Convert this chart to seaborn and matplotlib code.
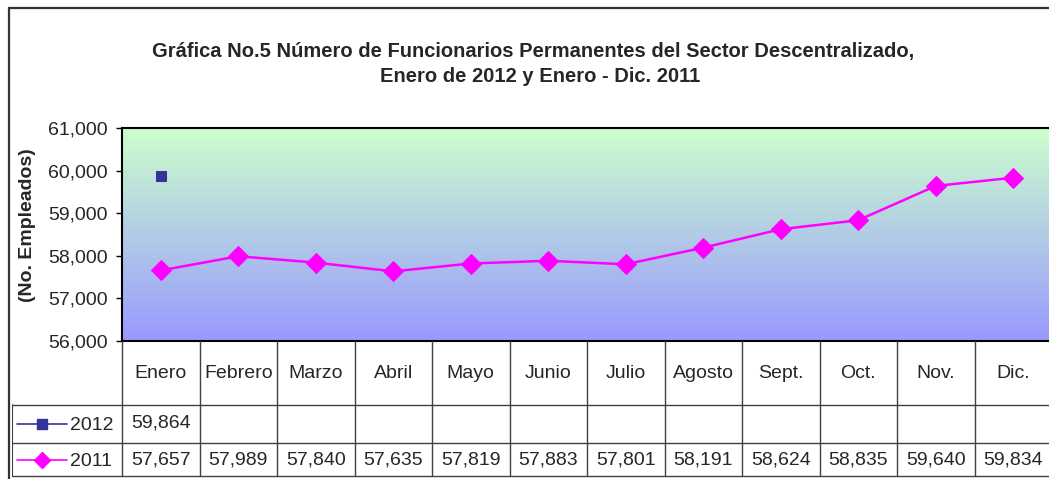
import numpy as np
import pandas as pd
import seaborn as sns
import matplotlib.pyplot as plt
from matplotlib.lines import Line2D

meses = ['Enero', 'Febrero', 'Marzo', 'Abril', 'Mayo', 'Junio', 'Julio',
         'Agosto', 'Sept.', 'Oct.', 'Nov.', 'Dic.']
vals_2012 = [59864]
vals_2011 = [57657, 57989, 57840, 57635, 57819, 57883, 57801,
             58191, 58624, 58835, 59640, 59834]
yticks = [56000, 57000, 58000, 59000, 60000, 61000]

c2012 = '#333399'
c2011 = '#FF00FF'
grid_c = '#404040'
fs = 14

sns.set_theme(style='white')
plt.rcParams['font.family'] = ['Liberation Sans', 'DejaVu Sans']

W, H = 1049, 479
fig = plt.figure(figsize=(W / 100, H / 100), dpi=100)

# outer chart frame
fig.add_artist(Line2D([9 / W, 1.0], [1 - 8 / H, 1 - 8 / H], color='#333333', lw=1.6))
fig.add_artist(Line2D([9 / W, 9 / W], [0, 1 - 8 / H], color='#333333', lw=1.6))

# title
fig.text(533 / W, 1 - 52 / H,
         'Gráfica No.5 Número de Funcionarios Permanentes del Sector Descentralizado,',
         ha='center', va='center', fontsize=14.5, fontweight='bold')
fig.text(540 / W, 1 - 77 / H, 'Enero de 2012 y Enero - Dic. 2011',
         ha='center', va='center', fontsize=14.5, fontweight='bold')

# plot area
ax = fig.add_axes([122 / W, 1 - 341 / H, 930 / W, 213 / H])
top = np.array([204, 255, 204]) / 255
bot = np.array([153, 153, 255]) / 255
t = np.linspace(0, 1, 256)[:, None, None]
grad = top * (1 - t) + bot * t
ax.imshow(grad, extent=[0, 1, 0, 1], transform=ax.transAxes, aspect='auto',
          zorder=0, origin='upper')

df11 = pd.DataFrame({'x': np.arange(len(meses)), 'y': vals_2011})
df12 = pd.DataFrame({'x': np.arange(len(vals_2012)), 'y': vals_2012})
sns.lineplot(data=df11, x='x', y='y', ax=ax, color=c2011, lw=1.8,
             marker='D', markersize=10, markeredgecolor=c2011, zorder=3)
sns.lineplot(data=df12, x='x', y='y', ax=ax, color=c2012, lw=1.5,
             marker='s', markersize=7.5, markeredgecolor=c2012, zorder=3)

ax.set_xlim(-0.5, len(meses) - 0.5)
ax.set_ylim(56000, 61000)
ax.set_yticks(yticks)
ax.set_yticklabels([f'{v:,}' for v in yticks], fontsize=fs)
ax.set_xticks([])
ax.set_xlabel('')
ax.set_ylabel('')
ax.tick_params(axis='y', left=True, length=4, width=1, pad=6.5, color='black')
for s in ax.spines.values():
    s.set_color('black')
    s.set_linewidth(1.5)

fig.text(28 / W, 1 - 225 / H, '(No. Empleados)', rotation=90, ha='center',
         va='center', fontsize=fs, fontweight='bold')

# data table
leg_w = 110 / 77.5
tab = fig.add_axes([12 / W, 0, 1040 / W, 1 - 341 / H])
tab.set_xlim(-0.5 - leg_w, len(meses) - 0.5)
tab.set_ylim(H, 341)
tab.axis('off')
x0 = -0.5 - leg_w
tab.plot([-0.5, len(meses) - 0.5], [405, 405], color=grid_c, lw=1)
tab.plot([x0, -0.5], [405, 405], color=grid_c, lw=1)
tab.plot([x0, len(meses) - 0.5], [443, 443], color=grid_c, lw=1)
tab.plot([x0, len(meses) - 0.5], [476, 476], color=grid_c, lw=1)
tab.plot([x0, x0], [405, 476], color=grid_c, lw=1.5)
for i in range(len(meses)):
    tab.plot([i - 0.5, i - 0.5], [341, 476], color=grid_c, lw=1)
    tab.text(i, 373, meses[i], ha='center', va='center', fontsize=fs)
    tab.text(i, 460, f'{vals_2011[i]:,}', ha='center', va='center', fontsize=fs)
for i, v in enumerate(vals_2012):
    tab.text(i, 423, f'{v:,}', ha='center', va='center', fontsize=fs)

# legend keys inside the table
lx = x0 + 5 / 77.5
rx = x0 + 55 / 77.5
mx = (lx + rx) / 2
tab.plot([lx, rx], [424, 424], color=c2012, lw=1.2)
tab.plot([mx], [424], marker='s', color=c2012, markersize=7)
tab.text(rx + 3 / 77.5, 425, '2012', ha='left', va='center', fontsize=fs)
tab.plot([lx, rx], [460, 460], color=c2011, lw=1.2)
tab.plot([mx], [460], marker='D', color=c2011, markersize=8)
tab.text(rx + 3 / 77.5, 461, '2011', ha='left', va='center', fontsize=fs)

fig.savefig('out.png', dpi=100)
